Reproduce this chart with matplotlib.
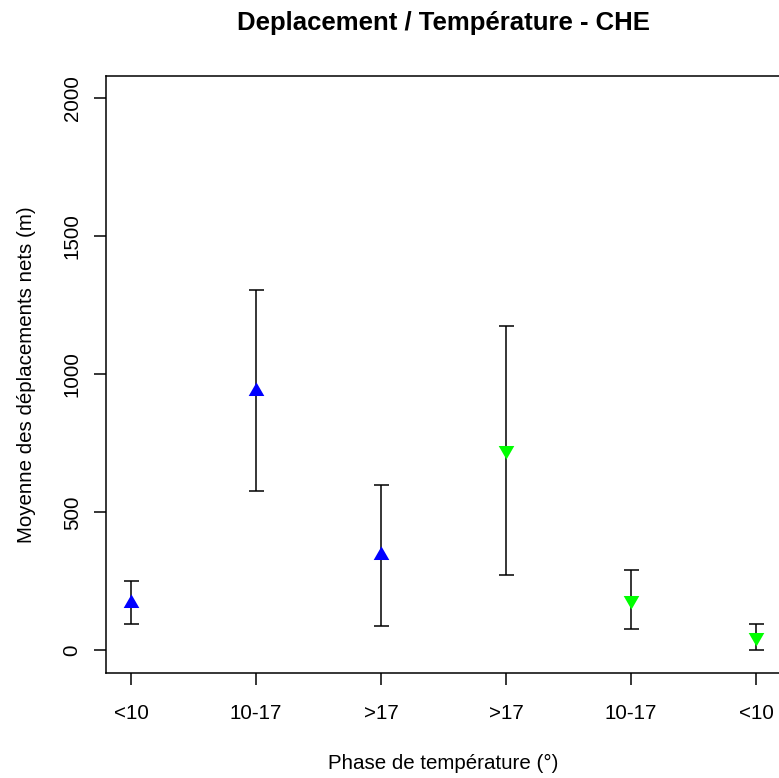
import numpy as np
import matplotlib
matplotlib.use("Agg")
from matplotlib import pyplot as plt

plt.rcParams["font.family"] = ["Liberation Sans", "DejaVu Sans"]

# mean net displacement per temperature phase, with error half-widths
phases = ["<10", "10-17", ">17", ">17", "10-17", "<10"]
means = [172, 941, 345, 724, 184, 47]
errors = [78, 364, 255, 451, 108, 47]
rising = [True, True, True, False, False, False]

W, H = 779, 778
fig = plt.figure(figsize=(W / 100, H / 100), dpi=100)
# axes box in pixels: left 106, right 781, top 76, bottom 672.5
ax = fig.add_axes([106 / W, (H - 672.5) / H, 675 / W, 596.5 / H])

x = np.arange(1, len(means) + 1)
means = np.array(means)
errors = np.array(errors)
up = np.array(rising)

tri_up = [(0, 1), (0.866, -0.5), (-0.866, -0.5)]
tri_dn = [(0, -1), (0.866, 0.5), (-0.866, 0.5)]

ax.errorbar(x, means, yerr=errors, fmt="none", ecolor="black",
            elinewidth=1.1, capsize=5.4, capthick=1.1, zorder=2)
ax.plot(x[up], means[up], linestyle="none", marker=tri_up, ms=13,
        color="#0000ff", mec="none", zorder=3)
ax.plot(x[~up], means[~up], linestyle="none", marker=tri_dn, ms=13,
        color="#00ff00", mec="none", zorder=3)

ax.set_xlim(0.8, 6.2)
ax.set_ylim(-80, 2080)
ax.set_xticks(x)
ax.set_xticklabels(phases)
ax.set_yticks([0, 500, 1000, 1500, 2000])
ax.set_yticklabels(["0", "500", "1000", "1500", "2000"], rotation=90, va="center")

fs = 14.8
for s in ax.spines.values():
    s.set_linewidth(1.1)
ax.tick_params(axis="both", length=8.5, width=1.1, labelsize=fs, color="black")
ax.tick_params(axis="x", pad=14)
ax.tick_params(axis="y", pad=9)

ax.set_xlabel("Phase de température (°)", fontsize=fs, va="center")
ax.xaxis.set_label_coords(0.5, (H - 763 - (H - 672.5)) / 596.5)
ax.set_ylabel("Moyenne des déplacements nets (m)", fontsize=fs, va="center")
ax.yaxis.set_label_coords((26 - 106) / 675, 0.5)

fig.text(443.5 / W, 1 - 23 / H, "Deplacement / Température - CHE",
         ha="center", va="center", fontsize=18.5, fontweight="bold")

fig.savefig("out.png", dpi=100)
